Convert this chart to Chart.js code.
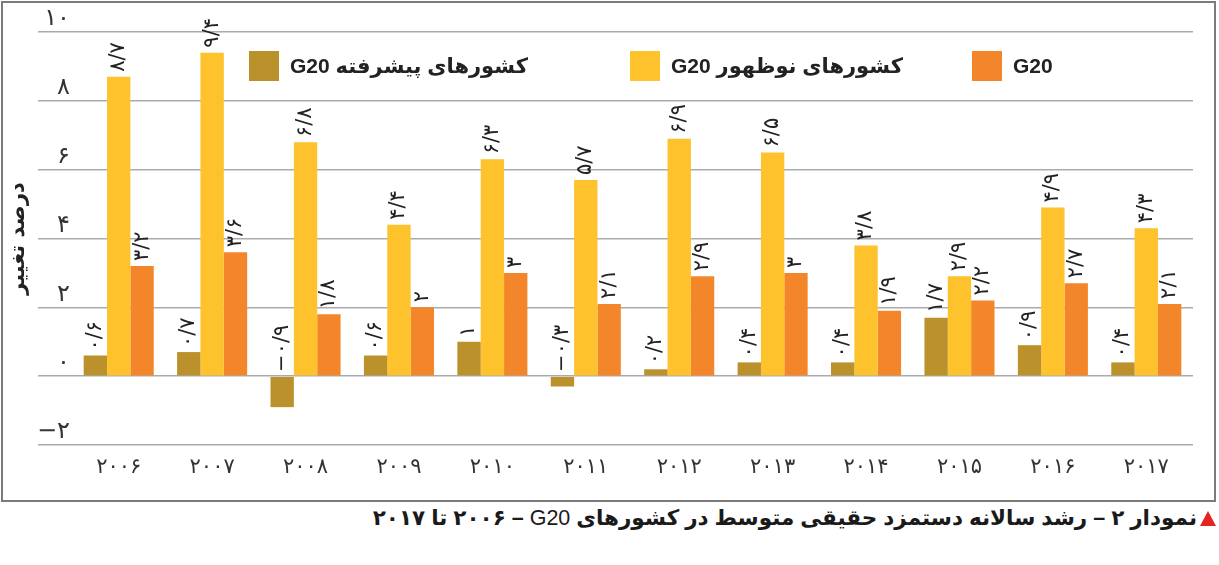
<!DOCTYPE html>
<html lang="fa">
<head>
<meta charset="utf-8">
<script src="https://cdn.jsdelivr.net/npm/chart.js"></script>
<style>
    body { margin: 0; background: #fff; font-family: "DejaVu Sans", sans-serif; }
    #frame { position: absolute; left: 1px; top: 1px; width: 1211px; height: 497px; border: 2px solid #7b7b7b; }
    #legend { position: absolute; left: 0; top: 0; }
    .item { position: absolute; top: 51px; display: flex; align-items: center; direction: ltr; }
    .item .box { width: 30px; height: 30px; margin-right: 11px; }
    .item span { font: bold 21px "Liberation Sans", "DejaVu Sans", sans-serif; color: #222; white-space: nowrap; }
    #caption { position: absolute; right: 3px; top: 505px; direction: rtl; font: bold 21.5px "Liberation Sans", "DejaVu Sans", sans-serif; color: #1a1a1a; white-space: nowrap; }
    #caption .tri { display: inline-block; width: 0; height: 0; border-left: 8px solid transparent; border-right: 8px solid transparent; border-bottom: 15px solid #e3241f; margin-left: 3px; vertical-align: -1px; }
</style>
</head>
<body>
<div id="frame">
    <canvas id="chart"></canvas>
</div>
<div id="legend"></div>
<div id="caption"><span class="tri"></span>نمودار ۲ – رشد سالانه دستمزد حقیقی متوسط در کشورهای <span style="font-weight:normal">G20</span>&#x200F; – ۲۰۰۶ تا ۲۰۱۷</div>

<script>
// data
const years = [2006, 2007, 2008, 2009, 2010, 2011, 2012, 2013, 2014, 2015, 2016, 2017];
const advanced = [0.6, 0.7, -0.9, 0.6, 1, -0.3, 0.2, 0.4, 0.4, 1.7, 0.9, 0.4];
const emerging = [8.7, 9.4, 6.8, 4.4, 6.3, 5.7, 6.9, 6.5, 3.8, 2.9, 4.9, 4.3];
const g20 = [3.2, 3.6, 1.8, 2, 3, 2.1, 2.9, 3, 1.9, 2.2, 2.7, 2.1];
const seriesNames = ['کشورهای پیشرفته G20', 'کشورهای نوظهور G20', 'G20'];
const seriesColors = ['#bb912b', '#fdc22c', '#f3862b'];
const yTicks = [-2, 0, 2, 4, 6, 8, 10];
const yTitle = 'درصد تغییر';

const faDigits = '۰۱۲۳۴۵۶۷۸۹';
function toFa(v) {
    return String(v).replace(/\d/g, d => faDigits[d]).replace('.', '/').replace('-', '−');
}

// rotated value labels above each bar (above zero for negatives)
const barLabels = {
    id: 'barLabels',
    afterDatasetsDraw(chart) {
        const ctx = chart.ctx;
        ctx.save();
        ctx.font = '21px "DejaVu Sans"';
        ctx.fillStyle = '#222';
        ctx.textAlign = 'left';
        ctx.textBaseline = 'middle';
        chart.data.datasets.forEach((ds, i) => {
            chart.getDatasetMeta(i).data.forEach((bar, j) => {
                const top = Math.min(bar.y, bar.base);
                ctx.save();
                ctx.translate(bar.x, top - 5);
                ctx.rotate(-Math.PI / 2);
                ctx.fillText(toFa(ds.data[j]), 0, 0);
                ctx.restore();
            });
        });
        ctx.restore();
    }
};

const canvas = document.getElementById('chart');
canvas.width = 1211;
canvas.height = 497;

new Chart(canvas, {
    type: 'bar',
    data: {
        labels: years,
        datasets: [advanced, emerging, g20].map((d, i) => ({
            label: seriesNames[i],
            data: d,
            backgroundColor: seriesColors[i],
            categoryPercentage: 0.75,
            barPercentage: 1.0
        }))
    },
    options: {
        responsive: false,
        animation: false,
        layout: { padding: { top: 29, right: 21, bottom: 15, left: 0 } },
        plugins: { legend: { display: false }, tooltip: { enabled: false } },
        scales: {
            x: {
                grid: { display: false, drawTicks: false },
                border: { display: false },
                ticks: {
                    padding: 10,
                    color: '#333',
                    font: { family: 'DejaVu Sans', size: 21 },
                    callback: (v, i) => toFa(years[i])
                },
                afterFit: s => { s.height = 40; }
            },
            y: {
                min: yTicks[0],
                max: yTicks[yTicks.length - 1],
                afterBuildTicks: s => { s.ticks = yTicks.map(v => ({ value: v })); },
                grid: { color: '#a9acaf', lineWidth: 1.5, tickLength: 34, drawTicks: true },
                border: { display: false },
                ticks: {
                    padding: -32,
                    labelOffset: -13,
                    color: '#333',
                    font: { family: 'DejaVu Sans', size: 24 },
                    callback: v => toFa(v)
                },
                title: {
                    display: true,
                    text: yTitle,
                    color: '#222',
                    padding: { top: 3, bottom: 0 },
                    font: { family: 'DejaVu Sans', size: 21, weight: 'bold' }
                },
                afterFit: s => { s.width = 69; }
            }
        }
    },
    plugins: [barLabels]
});

// legend placed inside the plot, between the 10 and 8 grid lines
const legendLeft = [249, 630, 972];
document.getElementById('legend').innerHTML = seriesNames.map((name, i) => `
    <div class="item" style="left:${legendLeft[i]}px">
        <div class="box" style="background:${seriesColors[i]}"></div>
        <span dir="rtl">${name}</span>
    </div>`).join('');
</script>
</body>
</html>
